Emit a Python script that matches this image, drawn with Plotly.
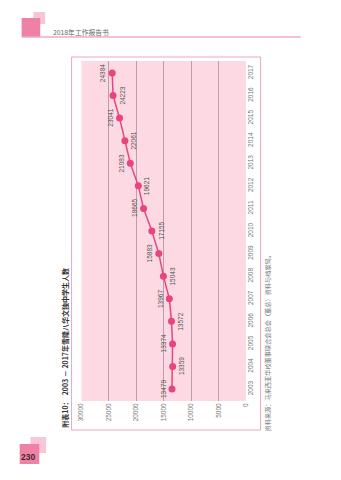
import plotly.graph_objects as go

years = [2003, 2004, 2005, 2006, 2007, 2008, 2009, 2010, 2011, 2012, 2013, 2014, 2015, 2016, 2017]
students = [13479, 13359, 13374, 13572, 13967, 15043, 15883, 17155, 18665, 19621, 21083, 22061, 23041, 24223, 24384]
value_ticks = [0, 5000, 10000, 15000, 20000, 25000, 30000]
title_text = "附表10：  2003 － 2017年雪隆八华文独中学生人数"
source_text = "资料来源：马来西亚华校董事联合会总会（董总）资料与档案局。"
header_text = "2018年工作报告书"
page_no = "230"

W, H = 341, 480
def px(x):
    return x / W
def py(y):
    return 1 - y / H

PINK = "#e8457f"

fig = go.Figure()
fig.add_trace(go.Scatter(
    x=students, y=years, mode="lines+markers",
    line=dict(color=PINK, width=1.5),
    marker=dict(color=PINK, size=7),
    hoverinfo="skip", showlegend=False,
))

annotations = []
for i, (yr, v) in enumerate(zip(years, students)):
    shift = -9 if i % 2 == 0 else 9
    annotations.append(dict(
        x=v, y=yr, xref="x", yref="y", text=str(v), showarrow=False,
        textangle=-90, xshift=shift, xanchor="center", yanchor="middle",
        font=dict(size=6.5, color="#555555", family="Liberation Sans, Arial, sans-serif"),
    ))

annotations += [
    dict(x=px(62), y=py(348), xref="paper", yref="paper", text="<b>" + title_text + "</b>",
         showarrow=False, textangle=-90, xanchor="center", yanchor="middle",
         font=dict(size=7, color="#333333", family="Noto Sans CJK SC, sans-serif")),
    dict(x=px(269), y=py(342), xref="paper", yref="paper", text=source_text,
         showarrow=False, textangle=-90, xanchor="center", yanchor="middle",
         font=dict(size=6.2, color="#777777", family="Noto Sans CJK SC, sans-serif")),
    dict(x=px(48), y=py(32), xref="paper", yref="paper", text=header_text,
         showarrow=False, xanchor="left", yanchor="middle",
         font=dict(size=6.8, color="#666666", family="Noto Sans CJK SC, sans-serif")),
    dict(x=px(25), y=py(457), xref="paper", yref="paper", text="<b>" + page_no + "</b>",
         showarrow=False, xanchor="center", yanchor="middle",
         font=dict(size=8.5, color="#3a2a30", family="Liberation Sans, Arial, sans-serif")),
]

shapes = [
    # chart frame
    dict(type="rect", xref="paper", yref="paper", x0=px(69), x1=px(262), y0=py(430), y1=py(57),
         line=dict(color="#eaa6bf", width=1), fillcolor="rgba(0,0,0,0)", layer="below"),
    # header squares and rule
    dict(type="rect", xref="paper", yref="paper", x0=px(30), x1=px(42), y0=py(24), y1=py(12),
         line=dict(width=0), fillcolor="#f9c6d6", layer="below"),
    dict(type="rect", xref="paper", yref="paper", x0=px(18), x1=px(37), y0=py(37), y1=py(18),
         line=dict(width=0), fillcolor="#f081a6", layer="below"),
    dict(type="line", xref="paper", yref="paper", x0=px(18), x1=px(303), y0=py(37), y1=py(37),
         line=dict(color="#f2a9c2", width=1.5)),
    # page number squares
    dict(type="rect", xref="paper", yref="paper", x0=px(27), x1=px(43), y0=py(453), y1=py(437),
         line=dict(width=0), fillcolor="#f9c6d6", layer="below"),
    dict(type="rect", xref="paper", yref="paper", x0=px(16), x1=px(36), y0=py(464), y1=py(444),
         line=dict(width=0), fillcolor="#f081a6", layer="below"),
]

fig.update_layout(
    width=W, height=H, margin=dict(l=0, r=0, t=0, b=0),
    paper_bgcolor="white", plot_bgcolor="#fdd9e3",
    annotations=annotations, shapes=shapes,
    xaxis=dict(domain=[px(79), px(247)], range=[30000, 0], tickvals=value_ticks,
               ticktext=[str(t) for t in value_ticks], tickangle=-90,
               showgrid=True, gridcolor="#b9a0aa", gridwidth=1, zeroline=False,
               showline=False, ticks="", ticklen=0,
               tickfont=dict(size=6.5, color="#777777", family="Liberation Sans, Arial, sans-serif")),
    yaxis=dict(domain=[py(401), py(61)], range=[2002.47, 2017.53], tickvals=years,
               ticktext=[str(y) for y in years], side="right", tickangle=-90,
               showgrid=False, zeroline=False, showline=False, ticks="",
               tickfont=dict(size=6.5, color="#777777", family="Liberation Sans, Arial, sans-serif")),
)

fig.write_html("out.html")
